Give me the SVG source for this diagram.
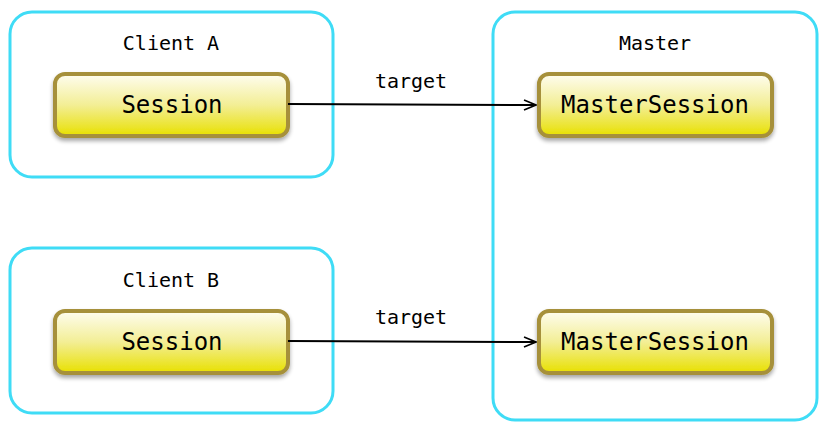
<svg xmlns="http://www.w3.org/2000/svg" width="830" height="434" viewBox="0 0 830 434">
<defs>
<linearGradient id="yg" x1="0" y1="0" x2="0" y2="1">
<stop offset="0" stop-color="#fefdf0"/>
<stop offset="0.5" stop-color="#f3ee95"/>
<stop offset="1" stop-color="#e8e000"/>
</linearGradient>
<filter id="sh" x="-10%" y="-20%" width="120%" height="150%">
<feGaussianBlur in="SourceAlpha" stdDeviation="2"/>
<feOffset dx="0" dy="3" result="b"/>
<feComponentTransfer><feFuncA type="linear" slope="0.35"/></feComponentTransfer>
<feMerge><feMergeNode/><feMergeNode in="SourceGraphic"/></feMerge>
</filter>
<marker id="arr" viewBox="0 0 14 12" refX="13" refY="6" markerWidth="14" markerHeight="12" markerUnits="userSpaceOnUse" orient="auto">
<path d="M1,1 L13,6 L1,11" fill="none" stroke="#000" stroke-width="1.6"/>
</marker>
</defs>
<style>
.grp{fill:#fff;stroke:#3fdcf6;stroke-width:3}
.node{fill:url(#yg);stroke:#a6903a;stroke-width:4;filter:url(#sh)}
.t{font-family:"DejaVu Sans Mono","Liberation Mono",monospace;fill:#000;text-anchor:middle}
.gl{font-size:20px}
.nl{font-size:24px}
.el{font-size:20px}
.edge{stroke:#000;stroke-width:2;fill:none;marker-end:url(#arr)}
</style>
<g id="clientA">
<rect class="grp" x="10" y="12" width="323" height="165" rx="22"/>
<text class="t gl" x="171" y="50">Client A</text>
</g>
<g id="clientB">
<rect class="grp" x="10" y="248" width="323" height="165" rx="22"/>
<text class="t gl" x="171" y="287">Client B</text>
</g>
<g id="master">
<rect class="grp" x="493" y="12" width="324" height="408" rx="22"/>
<text class="t gl" x="655" y="50">Master</text>
</g>
<g id="sessionA">
<rect class="node" x="55" y="74" width="233" height="62" rx="10"/>
<text class="t nl" x="172" y="113">Session</text>
</g>
<g id="sessionB">
<rect class="node" x="55" y="311" width="233" height="62" rx="10"/>
<text class="t nl" x="172" y="350">Session</text>
</g>
<g id="masterSessionA">
<rect class="node" x="539" y="74" width="233" height="62" rx="10"/>
<text class="t nl" x="655" y="113">MasterSession</text>
</g>
<g id="masterSessionB">
<rect class="node" x="539" y="311" width="233" height="62" rx="10"/>
<text class="t nl" x="655" y="350">MasterSession</text>
</g>
<g id="connectors">
<line class="edge" x1="288" y1="104" x2="536" y2="105"/>
<text class="t el" x="411" y="88">target</text>
<line class="edge" x1="288" y1="341" x2="536" y2="342"/>
<text class="t el" x="411" y="324">target</text>
</g>
</svg>
